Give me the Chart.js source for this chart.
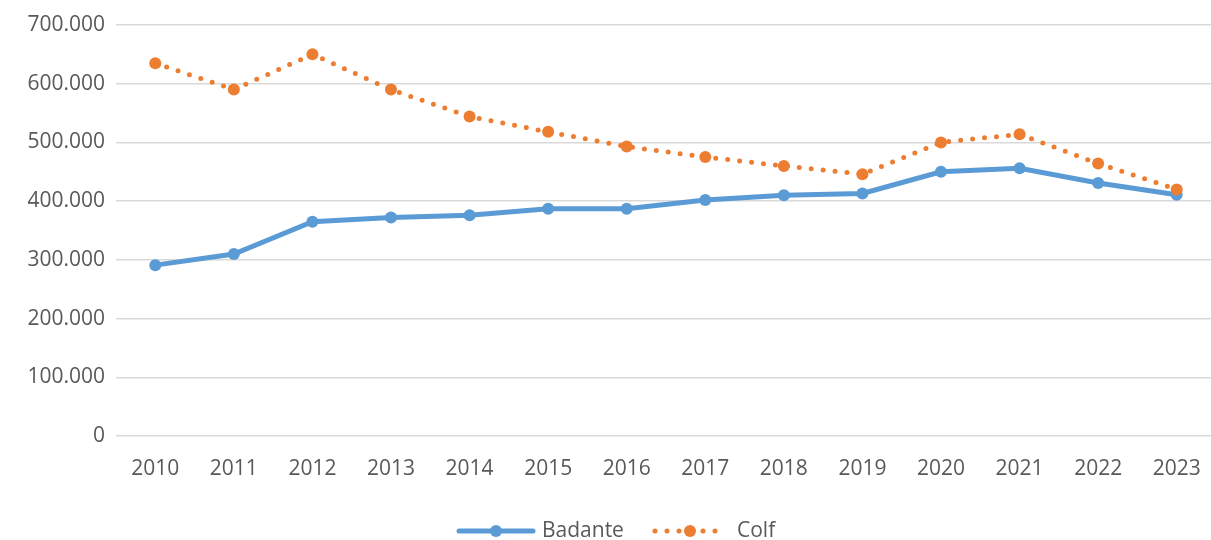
<!DOCTYPE html>
<html>
<head>
<meta charset="utf-8">
<script src="https://cdn.jsdelivr.net/npm/chart.js@4/dist/chart.umd.min.js"></script>
<style>
  html, body { margin: 0; padding: 0; background: #fff; overflow: hidden; }
  #wrap { width: 1222px; height: 540px; }
</style>
</head>
<body>
<div id="wrap"><canvas id="myChart"></canvas></div>
<script>
// data
const years = ["2010", "2011", "2012", "2013", "2014", "2015", "2016", "2017", "2018", "2019", "2020", "2021", "2022", "2023"];
const badante = [291000, 310000, 365000, 372000, 376000, 387000, 387000, 402000, 410000, 413000, 450000, 456000, 431000, 411000];
const colf = [635000, 590000, 650000, 590000, 544000, 518000, 493000, 475000, 460000, 446000, 500000, 514000, 464000, 420000];
const yTicks = [0, 100000, 200000, 300000, 400000, 500000, 600000, 700000];

const blue = "#5B9BD5";
const orange = "#ED7D31";
const textColor = "#595959";
const fontFamily = "'Open Sans', sans-serif";

function fmt(v) {
  return String(v).replace(/\B(?=(\d{3})+(?!\d))/g, ".");
}

// legend drawn at the bottom, like the excel one
const bottomLegend = {
  id: "bottomLegend",
  afterDraw(chart) {
    const c = chart.ctx;
    const y = 531;
    c.save();
    // Badante
    c.strokeStyle = blue;
    c.lineWidth = 5;
    c.lineCap = "round";
    c.beginPath();
    c.moveTo(459, y);
    c.lineTo(533, y);
    c.stroke();
    c.fillStyle = blue;
    c.beginPath();
    c.arc(496, y, 6, 0, Math.PI * 2);
    c.fill();
    // Colf
    c.strokeStyle = orange;
    c.setLineDash([0, 12]);
    c.beginPath();
    c.moveTo(655, y);
    c.lineTo(726, y);
    c.stroke();
    c.setLineDash([]);
    c.fillStyle = orange;
    c.beginPath();
    c.arc(690, y, 6, 0, Math.PI * 2);
    c.fill();
    // labels
    c.fillStyle = textColor;
    c.font = "21px " + fontFamily;
    c.textBaseline = "middle";
    c.fillText("Badante", 542, y);
    c.fillText("Colf", 737, y);
    c.restore();
  }
};

const config = {
  type: "line",
  data: {
    labels: years,
    datasets: [
      {
        label: "Badante",
        data: badante,
        borderColor: blue,
        backgroundColor: blue,
        borderWidth: 5,
        pointRadius: 6,
        pointBorderWidth: 0,
        pointBackgroundColor: blue,
        tension: 0,
        order: 1,
      },
      {
        label: "Colf",
        data: colf,
        borderColor: orange,
        backgroundColor: orange,
        borderWidth: 5,
        borderDash: [0, 12],
        borderCapStyle: "round",
        pointRadius: 6,
        pointBorderWidth: 0,
        pointBackgroundColor: orange,
        tension: 0,
        order: 0,
      },
    ],
  },
  options: {
    responsive: true,
    maintainAspectRatio: false,
    animation: false,
    layout: { padding: { top: 25, right: 0, left: 0, bottom: 0 } },
    scales: {
      x: {
        offset: true,
        grid: { display: false, drawTicks: false },
        border: { display: false },
        ticks: {
          color: textColor,
          font: { family: fontFamily, size: 21 },
          padding: 20,
          maxRotation: 0,
          autoSkip: false,
        },
        afterFit(scale) { scale.height = 104; },
      },
      y: {
        min: 0,
        max: 700000,
        afterBuildTicks(scale) { scale.ticks = yTicks.map(v => ({ value: v })); },
        grid: { color: "#d9d9d9", lineWidth: 1.5, drawTicks: false },
        border: { display: false },
        ticks: {
          color: textColor,
          font: { family: fontFamily, size: 21 },
          padding: 11,
          callback: (v) => fmt(v),
        },
        afterFit(scale) { scale.width = 116; },
      },
    },
    plugins: {
      legend: { display: false },
      tooltip: { enabled: false },
    },
  },
  plugins: [bottomLegend],
};

var myChart = new Chart(document.getElementById("myChart"), config);
</script>
</body>
</html>
